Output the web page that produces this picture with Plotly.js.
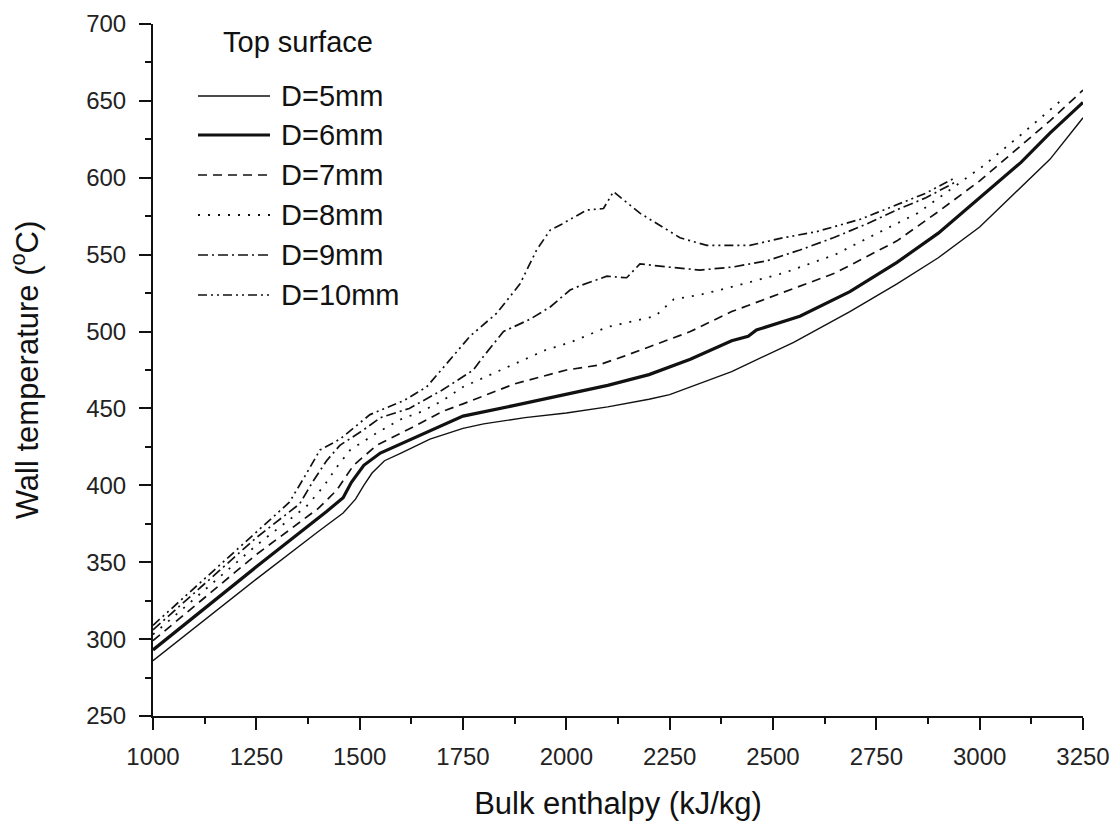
<!DOCTYPE html>
<html>
<head>
<meta charset="utf-8">
<script src="https://cdn.plot.ly/plotly-3.0.1.min.js"></script>
<style>html,body{margin:0;padding:0;background:#fff;}#chart{width:1120px;height:821px;}</style>
</head>
<body>
<div id="chart"></div>
<script>
// Series data (bulk enthalpy kJ/kg -> wall temperature °C)
const x5  = [1000,1250,1400,1460,1490,1510,1530,1560,1600,1670,1750,1800,1900,2000,2100,2200,2250,2300,2400,2550,2686,2800,2900,3000,3100,3170,3250];
const y5  = [286,339,370,382,391,400,408,416,421,430,437,440,444,447,451,456,459,464,474,493,513,531,548,568,594,612,639];

const x6  = [1000,1250,1420,1460,1480,1510,1550,1600,1650,1750,1875,2000,2100,2200,2300,2400,2440,2460,2565,2686,2800,2900,3000,3100,3170,3250];
const y6  = [293,347,383,392,402,413,421,427,433,445,452,459,465,472,482,494,497,501,510,526,545,564,587,610,629,649];

const x7  = [1000,1250,1400,1445,1485,1541,1622,1700,1750,1875,2000,2075,2140,2220,2300,2400,2500,2650,2800,2900,3000,3100,3170,3250];
const y7  = [299,355,385,397,413,426,437,448,453,466,475,478,484,492,500,513,523,538,559,578,598,621,637,657];

const x8  = [1000,1250,1370,1412,1445,1477,1541,1600,1650,1700,1750,1875,1950,2010,2100,2215,2245,2260,2325,2400,2525,2650,2790,2850,3010,3100,3200];
const y8  = [303,361,386,399,412,423,434,443,448,455,464,479,488,493,503,510,517,521,524,529,538,550,569,577,608,628,651];

const x9  = [1000,1250,1355,1388,1420,1452,1509,1550,1620,1700,1775,1800,1848,1912,1961,2009,2035,2098,2146,2178,2245,2323,2404,2485,2565,2646,2727,2807,2870,2940];
const y9  = [306,366,388,403,416,426,436,444,450,462,475,484,500,508,516,527,530,536,535,544,542,540,542,546,553,561,570,580,587,597];

const x10 = [1000,1250,1330,1372,1404,1452,1525,1606,1662,1710,1767,1832,1888,1928,1961,1990,2049,2090,2114,2178,2227,2275,2340,2444,2525,2606,2711,2807,2870,2940];
const y10 = [309,370,389,408,423,430,446,455,464,479,497,512,531,553,566,570,579,580,591,577,569,561,556,556,561,565,573,583,590,600];

const seriesNames = ["D=5mm","D=6mm","D=7mm","D=8mm","D=9mm","D=10mm"];
const legendTitle = "Top surface";
const xTitle = "Bulk enthalpy (kJ/kg)";
const yTitle = "Wall temperature (<sup>o</sup>C)";

const xs = [x5,x6,x7,x8,x9,x10];
const ys = [y5,y6,y7,y8,y9,y10];
const styles = [
  {width:1.4, dash:"solid"},
  {width:3.2, dash:"solid"},
  {width:1.7, dash:"9px,6px"},
  {width:1.8, dash:"2px,8px"},
  {width:1.7, dash:"10px,4px,2px,4px"},
  {width:1.7, dash:"9px,4px,2px,4px,2px,4px"}
];
const FONT = "Arial, 'Liberation Sans', sans-serif";

const traces = xs.map((x,i)=>({
  x:x, y:ys[i], type:"scatter", mode:"lines", name:seriesNames[i],
  line:{color:"#111", width:styles[i].width, dash:styles[i].dash, shape:"linear"},
  showlegend:false, hoverinfo:"skip"
}));

// manual legend in paper coordinates (plot area: x 153..1083, y 24..716)
const L=153, R=1083, T=24, B=716;
const px = v => (v-L)/(R-L);
const py = v => (B-v)/(B-T);
const rowsY = [96,135,175,215,255,295];
const shapes = [], annotations = [];
rowsY.forEach((yy,i)=>{
  shapes.push({type:"line", xref:"paper", yref:"paper", x0:px(198), x1:px(270), y0:py(yy), y1:py(yy),
    line:{color:"#111", width:styles[i].width, dash:styles[i].dash}});
  annotations.push({xref:"paper", yref:"paper", x:px(279), y:py(yy), xanchor:"left", yanchor:"middle",
    text:seriesNames[i], showarrow:false, font:{family:FONT, size:29, color:"#111"}});
});
annotations.push({xref:"paper", yref:"paper", x:px(298), y:py(42), xanchor:"center", yanchor:"middle",
  text:legendTitle, showarrow:false, font:{family:FONT, size:29, color:"#111"}});

const axisCommon = {
  showgrid:false, zeroline:false, showline:true, linecolor:"#111", linewidth:2,
  mirror:false, ticks:"outside", ticklen:12, tickwidth:2, tickcolor:"#111",
  tickfont:{family:FONT, size:24, color:"#222"}
};

const layout = {
  width:1120, height:821,
  margin:{l:L, r:1120-R, t:T, b:821-B},
  paper_bgcolor:"#fff", plot_bgcolor:"#fff",
  showlegend:false,
  xaxis:Object.assign({}, axisCommon, {
    range:[1000,3250], tickmode:"linear", tick0:1000, dtick:250,
    minor:{dtick:125, ticklen:6, tickwidth:2, tickcolor:"#111", ticks:"outside"},
    ticklabelstandoff:6,
    title:{text:xTitle, font:{family:FONT, size:31, color:"#111"}, standoff:26}
  }),
  yaxis:Object.assign({}, axisCommon, {
    range:[250,700], tickmode:"linear", tick0:250, dtick:50,
    minor:{dtick:25, ticklen:6, tickwidth:2, tickcolor:"#111", ticks:"outside"},
    ticklabelstandoff:8,
    title:{text:yTitle, font:{family:FONT, size:31, color:"#111"}, standoff:38}
  }),
  shapes:shapes, annotations:annotations
};

Plotly.newPlot("chart", traces, layout, {staticPlot:true, displayModeBar:false});
</script>
</body>
</html>
